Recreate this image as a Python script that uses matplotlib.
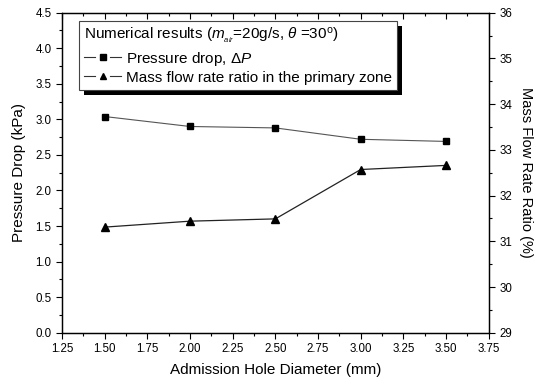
import numpy as np
import matplotlib.pyplot as plt
from matplotlib.patches import Rectangle
from matplotlib.lines import Line2D
from matplotlib.legend_handler import HandlerBase

plt.rcParams['font.family'] = ['Liberation Sans', 'DejaVu Sans']
plt.rcParams['mathtext.fontset'] = 'custom'
plt.rcParams['mathtext.rm'] = 'Liberation Sans'
plt.rcParams['mathtext.it'] = 'Liberation Sans:italic'

# data
diameter = [1.5, 2.0, 2.5, 3.0, 3.5]
pressure_drop = [3.04, 2.90, 2.88, 2.72, 2.69]
mass_ratio = [31.31, 31.44, 31.49, 32.57, 32.66]


class GapHandler(HandlerBase):
    # Origin style legend symbol: line - marker - line with small gaps
    def create_artists(self, legend, orig, xdescent, ydescent, width, height,
                       fontsize, trans):
        x0 = -xdescent
        x1 = x0 + width
        xm = (x0 + x1) / 2
        y = (height - ydescent) / 2
        g = 0.2 * width
        kw = dict(color="#333333", lw=0.8, transform=trans)
        a = Line2D([x0, xm - g], [y, y], **kw)
        b = Line2D([xm + g, x1], [y, y], **kw)
        m = Line2D([xm], [y], ls="none", marker=orig.get_marker(),
                   ms=orig.get_markersize() * 0.85, mfc="k", mec="k",
                   transform=trans)
        return [a, b, m]


fig = plt.figure(figsize=(5.42, 3.85), dpi=100)
ax = fig.add_axes([0.1144, 0.1358, 0.7873, 0.8312])
ax2 = ax.twinx()

l1, = ax.plot(diameter, pressure_drop, color="#555555", lw=0.8,
              marker="s", ms=4.6, mfc="k", mec="k",
              label=r"Pressure drop, $\mathit{\Delta P}$")
l2, = ax2.plot(diameter, mass_ratio, color="#222222", lw=0.9,
               marker="^", ms=5.6, mfc="k", mec="k",
               label="Mass flow rate ratio in the primary zone")

ax.set_xlim(1.25, 3.75)
ax.set_ylim(0, 4.5)
ax2.set_ylim(29, 36)
ax.set_xticks(np.arange(1.25, 3.76, 0.25))
ax.set_xticks(np.arange(1.25, 3.76, 0.125), minor=True)
ax.set_yticks(np.arange(0, 4.51, 0.5))
ax.set_yticks(np.arange(0, 4.51, 0.25), minor=True)
ax2.set_yticks(np.arange(29, 36.1, 1))
ax2.set_yticks(np.arange(29, 36.1, 0.5), minor=True)
ax.xaxis.set_major_formatter(plt.FormatStrFormatter("%.2f"))
ax.yaxis.set_major_formatter(plt.FormatStrFormatter("%.1f"))

ax.tick_params(axis="both", which="both", labelsize=8.3, color="k", width=0.8)
ax.tick_params(axis="x", which="both", direction="out", top=True, bottom=True)
ax.tick_params(axis="x", which="major", length=4)
ax.tick_params(axis="x", which="minor", length=2.5)
ax.tick_params(axis="y", which="major", length=4, direction="out")
ax.tick_params(axis="y", which="minor", length=2.5, direction="out")
ax2.tick_params(axis="y", which="both", labelsize=8.3, direction="out", width=0.8)
ax2.tick_params(axis="y", which="major", length=4)
ax2.tick_params(axis="y", which="minor", length=2.5)

# top ticks point inward
for t in ax.xaxis.get_major_ticks() + ax.xaxis.get_minor_ticks():
    t.tick2line.set_marker(3)

for sp in list(ax.spines.values()) + list(ax2.spines.values()):
    sp.set_linewidth(0.9)

ax.set_xlabel("Admission Hole Diameter (mm)", fontsize=11, labelpad=6)
ax.set_ylabel("Pressure Drop (kPa)", fontsize=11, labelpad=7)
ax2.set_ylabel("Mass Flow Rate Ratio (%)", fontsize=10.5, rotation=270, labelpad=15)

leg = ax2.legend(handles=[l1, l2],
                 title=r"Numerical results ($m_{_{air}}$=20g/s, $\mathit{\theta}$ =30$^{\mathrm{o}}$)",
                 handler_map={Line2D: GapHandler()},
                 loc="upper left", bbox_to_anchor=(0.04, 0.974),
                 fontsize=11, title_fontsize=11, alignment="left",
                 frameon=True, fancybox=False, edgecolor="#444444",
                 framealpha=1, handlelength=2.4, handletextpad=0.3,
                 borderpad=0.35, labelspacing=0.2, borderaxespad=0)
leg.get_frame().set_linewidth(0.8)
leg.set_zorder(10)

# Origin-style solid black drop shadow behind the legend box
fig.canvas.draw()
bb = leg.get_window_extent().transformed(fig.transFigure.inverted())
dx, dy = 5 / 542, 5 / 385
shadow = Rectangle((bb.x0 + dx, bb.y0 - dy), bb.width, bb.height,
                   transform=fig.transFigure, facecolor="k", edgecolor="none",
                   zorder=9)
ax2.add_artist(shadow)

fig.savefig("out.png", dpi=100)
